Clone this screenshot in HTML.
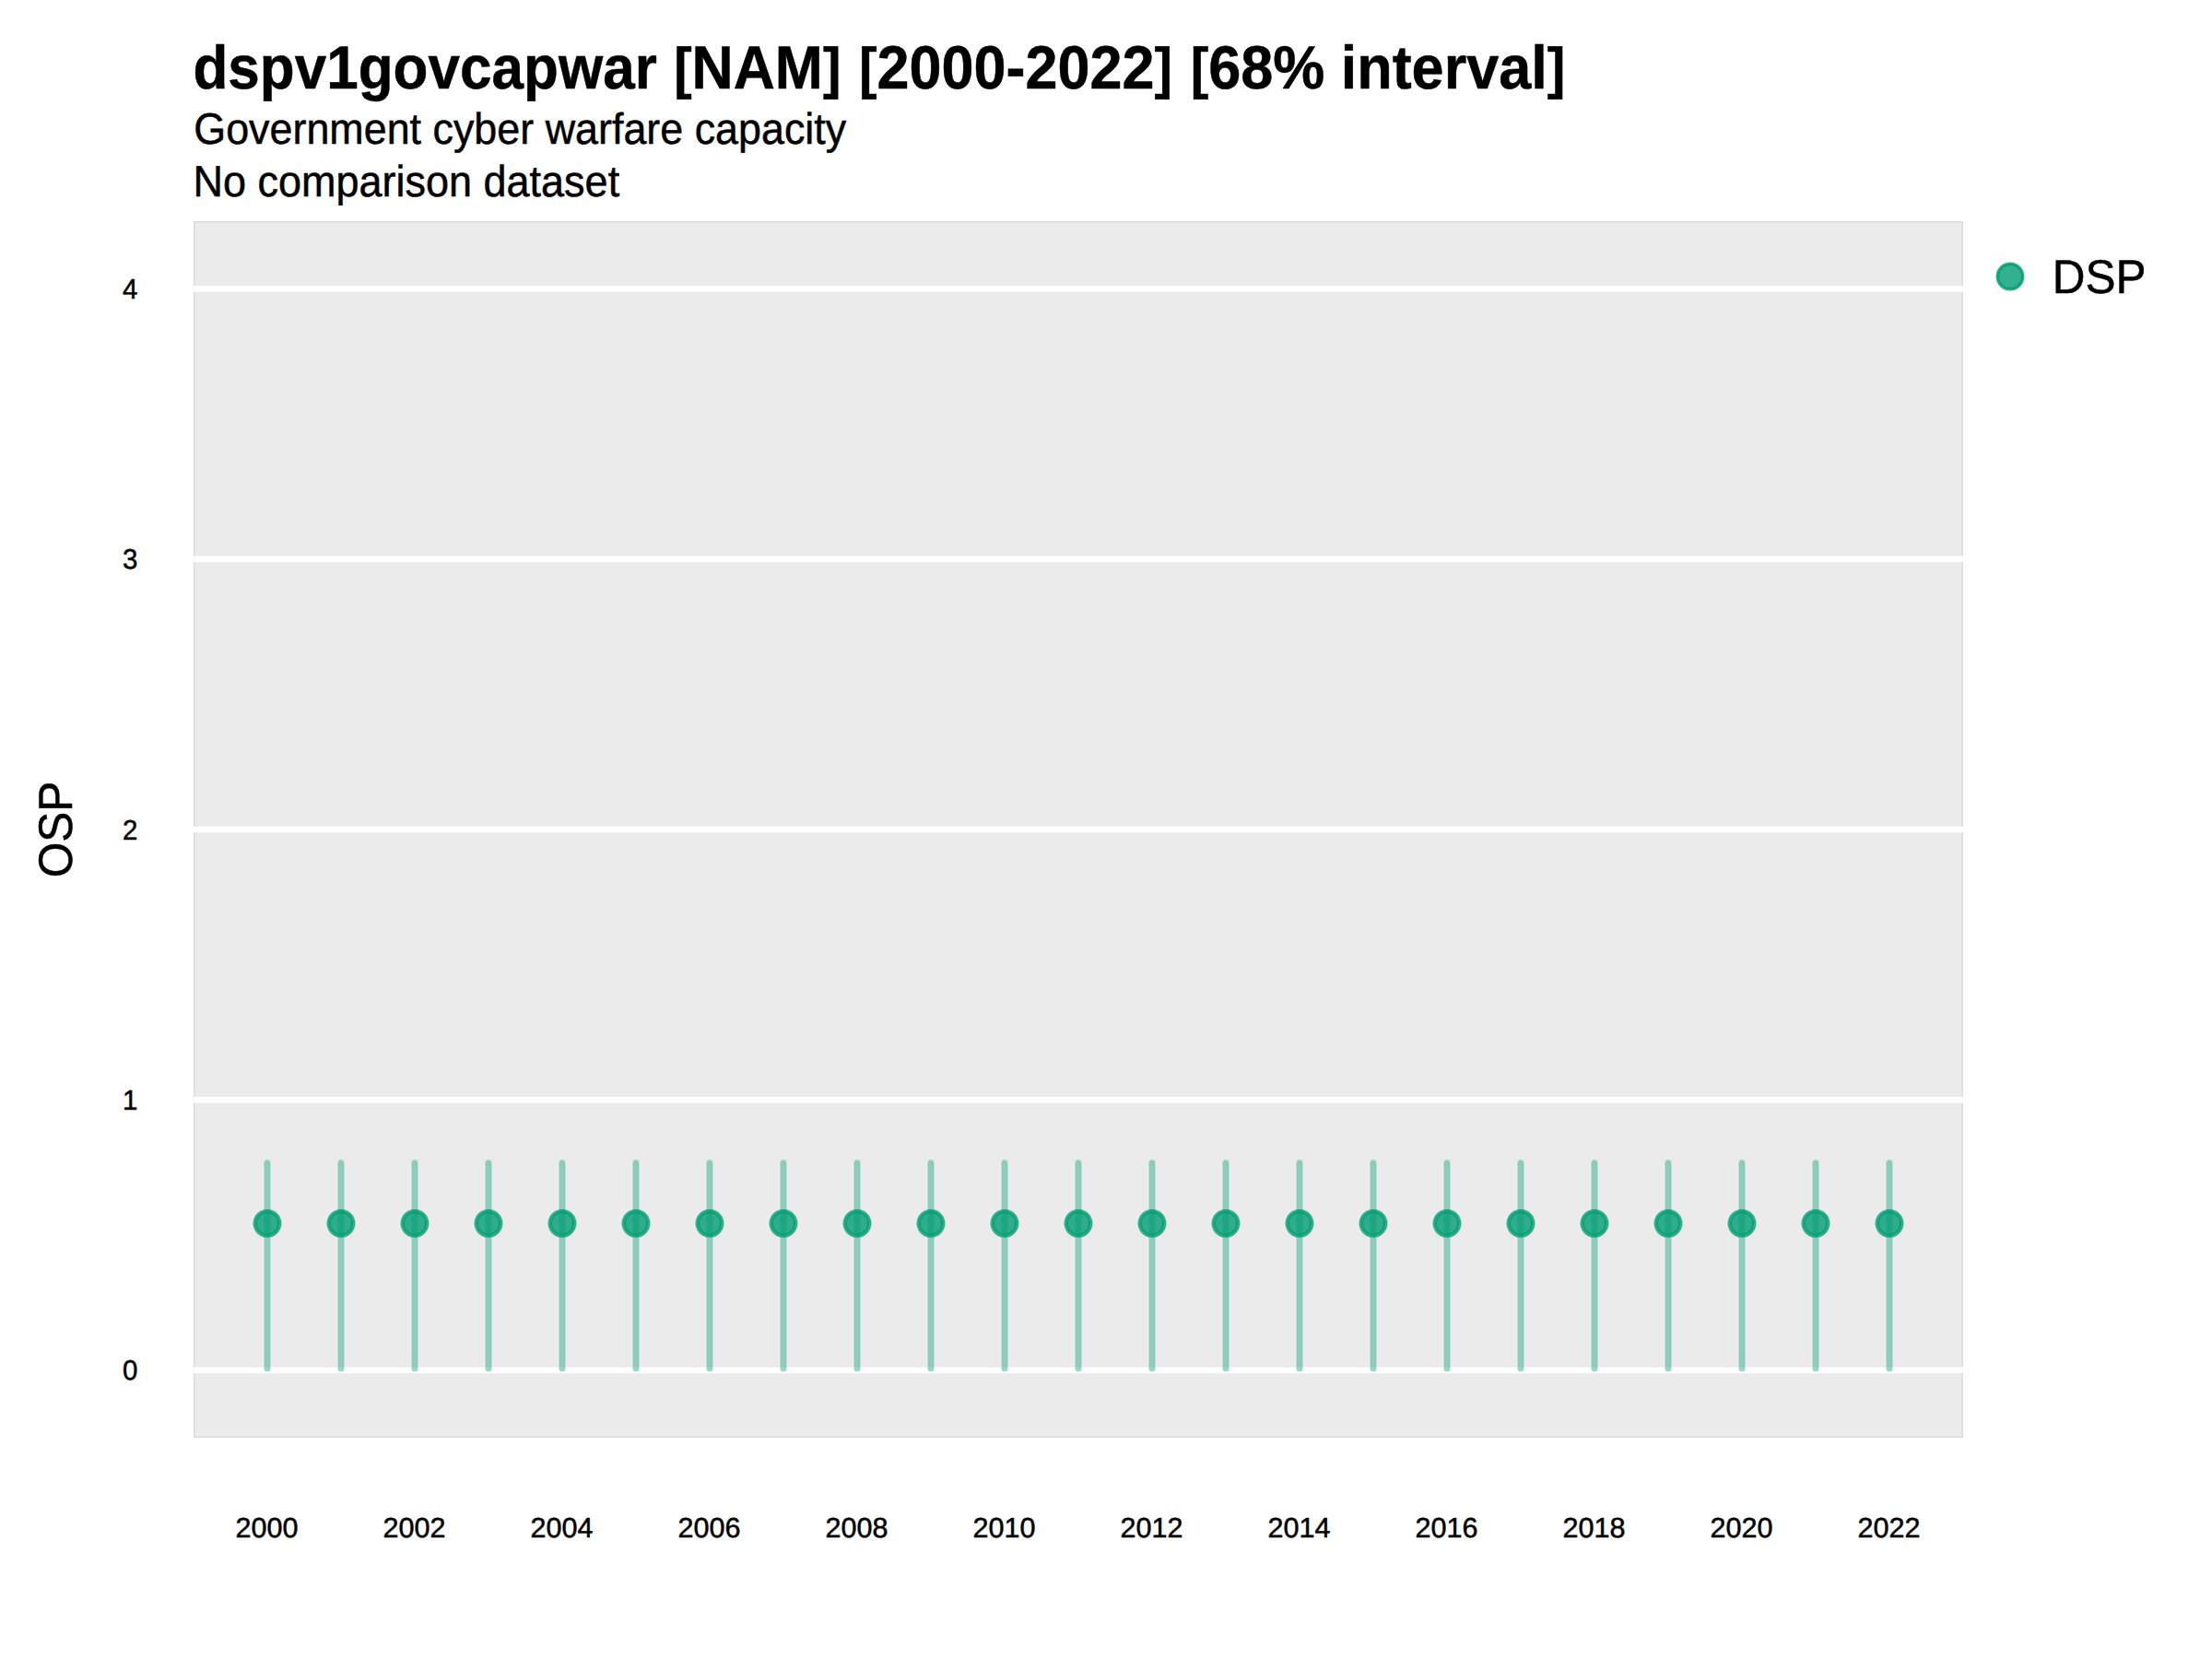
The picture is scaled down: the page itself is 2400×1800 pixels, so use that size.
<!DOCTYPE html>
<html lang="en"><head><meta charset="utf-8"><title>dspv1govcapwar [NAM] [2000-2022] [68% interval]</title>
<style>
html,body{margin:0;padding:0;background:#fff;}
body{width:2400px;height:1800px;overflow:hidden;}
svg{display:block;}
text{font-family:"Liberation Sans",sans-serif;fill:#000;text-rendering:geometricPrecision;stroke:#000;stroke-width:0.5px;}
.t{font-weight:bold;}
.m{text-anchor:middle;}
.e{text-anchor:end;}
</style></head><body>
<svg width="2400" height="1800" viewBox="0 0 2400 1800">
<rect width="2400" height="1800" fill="#ffffff"/>
<rect x="210" y="240" width="1920" height="1320" fill="#ebebeb"/>
<rect x="210.5" y="240.5" width="1919" height="1319" fill="none" stroke="#dcdcdc" stroke-width="1"/>
<rect x="211.5" y="241.5" width="1917" height="1317" fill="none" stroke="#e3e3e3" stroke-width="1"/>
<rect x="210" y="1483.47" width="1920" height="6.4" fill="#ffffff"/>
<rect x="210" y="1190.13" width="1920" height="6.4" fill="#ffffff"/>
<rect x="210" y="896.80" width="1920" height="6.4" fill="#ffffff"/>
<rect x="210" y="603.47" width="1920" height="6.4" fill="#ffffff"/>
<rect x="210" y="310.13" width="1920" height="6.4" fill="#ffffff"/>
<g stroke="#009E73" stroke-opacity="0.4" stroke-width="6.9" stroke-linecap="round">
<line x1="290" x2="290" y1="1261.9" y2="1484.9"/>
<line x1="370" x2="370" y1="1261.9" y2="1484.9"/>
<line x1="450" x2="450" y1="1261.9" y2="1484.9"/>
<line x1="530" x2="530" y1="1261.9" y2="1484.9"/>
<line x1="610" x2="610" y1="1261.9" y2="1484.9"/>
<line x1="690" x2="690" y1="1261.9" y2="1484.9"/>
<line x1="770" x2="770" y1="1261.9" y2="1484.9"/>
<line x1="850" x2="850" y1="1261.9" y2="1484.9"/>
<line x1="930" x2="930" y1="1261.9" y2="1484.9"/>
<line x1="1010" x2="1010" y1="1261.9" y2="1484.9"/>
<line x1="1090" x2="1090" y1="1261.9" y2="1484.9"/>
<line x1="1170" x2="1170" y1="1261.9" y2="1484.9"/>
<line x1="1250" x2="1250" y1="1261.9" y2="1484.9"/>
<line x1="1330" x2="1330" y1="1261.9" y2="1484.9"/>
<line x1="1410" x2="1410" y1="1261.9" y2="1484.9"/>
<line x1="1490" x2="1490" y1="1261.9" y2="1484.9"/>
<line x1="1570" x2="1570" y1="1261.9" y2="1484.9"/>
<line x1="1650" x2="1650" y1="1261.9" y2="1484.9"/>
<line x1="1730" x2="1730" y1="1261.9" y2="1484.9"/>
<line x1="1810" x2="1810" y1="1261.9" y2="1484.9"/>
<line x1="1890" x2="1890" y1="1261.9" y2="1484.9"/>
<line x1="1970" x2="1970" y1="1261.9" y2="1484.9"/>
<line x1="2050" x2="2050" y1="1261.9" y2="1484.9"/>
</g>
<g fill="#009E73" fill-opacity="0.8">
<circle cx="290" cy="1327.35" r="13"/>
<circle cx="370" cy="1327.35" r="13"/>
<circle cx="450" cy="1327.35" r="13"/>
<circle cx="530" cy="1327.35" r="13"/>
<circle cx="610" cy="1327.35" r="13"/>
<circle cx="690" cy="1327.35" r="13"/>
<circle cx="770" cy="1327.35" r="13"/>
<circle cx="850" cy="1327.35" r="13"/>
<circle cx="930" cy="1327.35" r="13"/>
<circle cx="1010" cy="1327.35" r="13"/>
<circle cx="1090" cy="1327.35" r="13"/>
<circle cx="1170" cy="1327.35" r="13"/>
<circle cx="1250" cy="1327.35" r="13"/>
<circle cx="1330" cy="1327.35" r="13"/>
<circle cx="1410" cy="1327.35" r="13"/>
<circle cx="1490" cy="1327.35" r="13"/>
<circle cx="1570" cy="1327.35" r="13"/>
<circle cx="1650" cy="1327.35" r="13"/>
<circle cx="1730" cy="1327.35" r="13"/>
<circle cx="1810" cy="1327.35" r="13"/>
<circle cx="1890" cy="1327.35" r="13"/>
<circle cx="1970" cy="1327.35" r="13"/>
<circle cx="2050" cy="1327.35" r="13"/>
<circle cx="2181" cy="300" r="14.1"/>
</g>
<g fill="none" stroke="#009E73" stroke-opacity="0.8" stroke-width="4.35">
<circle cx="290" cy="1327.35" r="13.275"/>
<circle cx="370" cy="1327.35" r="13.275"/>
<circle cx="450" cy="1327.35" r="13.275"/>
<circle cx="530" cy="1327.35" r="13.275"/>
<circle cx="610" cy="1327.35" r="13.275"/>
<circle cx="690" cy="1327.35" r="13.275"/>
<circle cx="770" cy="1327.35" r="13.275"/>
<circle cx="850" cy="1327.35" r="13.275"/>
<circle cx="930" cy="1327.35" r="13.275"/>
<circle cx="1010" cy="1327.35" r="13.275"/>
<circle cx="1090" cy="1327.35" r="13.275"/>
<circle cx="1170" cy="1327.35" r="13.275"/>
<circle cx="1250" cy="1327.35" r="13.275"/>
<circle cx="1330" cy="1327.35" r="13.275"/>
<circle cx="1410" cy="1327.35" r="13.275"/>
<circle cx="1490" cy="1327.35" r="13.275"/>
<circle cx="1570" cy="1327.35" r="13.275"/>
<circle cx="1650" cy="1327.35" r="13.275"/>
<circle cx="1730" cy="1327.35" r="13.275"/>
<circle cx="1810" cy="1327.35" r="13.275"/>
<circle cx="1890" cy="1327.35" r="13.275"/>
<circle cx="1970" cy="1327.35" r="13.275"/>
<circle cx="2050" cy="1327.35" r="13.275"/>
<circle cx="2181" cy="300" r="13.725" stroke-width="3.45"/>
</g>
<text class="t" font-size="66.3" y="96.00" xml:space="preserve"><tspan x="209.40" textLength="503.48" lengthAdjust="spacingAndGlyphs">dspv1govcapwar</tspan> <tspan x="731.17" textLength="181.20" lengthAdjust="spacingAndGlyphs"><tspan font-size="61.9" dy="-0.84">[</tspan><tspan dy="0.84">NAM</tspan><tspan font-size="61.9" dy="-0.84">]</tspan></tspan><tspan dy="0.84"> </tspan><tspan x="931.90" textLength="340.25" lengthAdjust="spacingAndGlyphs"><tspan font-size="61.9" dy="-0.84">[</tspan><tspan dy="0.84">2000-2022</tspan><tspan font-size="61.9" dy="-0.84">]</tspan></tspan><tspan dy="0.84"> </tspan><tspan x="1291.65" textLength="145.77" lengthAdjust="spacingAndGlyphs"><tspan font-size="61.9" dy="-0.84">[</tspan><tspan dy="0.84">68%</tspan></tspan> <tspan x="1454.65" textLength="243.70" lengthAdjust="spacingAndGlyphs">interval<tspan font-size="61.9" dy="-0.84">]</tspan></tspan></text>
<text font-size="47.5" transform="translate(210.28,155.90) scale(0.9442,1)">Government cyber warfare capacity</text>
<text font-size="47.5" transform="translate(209.38,213.30) scale(0.9474,1)">No comparison dataset</text>
<text class="e" font-size="30.4" transform="translate(149.50,1497.34) scale(0.9700,1)">0</text>
<text class="e" font-size="30.4" transform="translate(149.50,1204.00) scale(0.9700,1)">1</text>
<text class="e" font-size="30.4" transform="translate(149.50,910.67) scale(0.9700,1)">2</text>
<text class="e" font-size="30.4" transform="translate(149.50,617.34) scale(0.9700,1)">3</text>
<text class="e" font-size="30.4" transform="translate(149.50,324.00) scale(0.9700,1)">4</text>
<text class="m" font-size="30.4" transform="translate(289.60,1668.00) scale(1.0057,1)">2000</text>
<text class="m" font-size="30.4" transform="translate(449.60,1668.00) scale(1.0057,1)">2002</text>
<text class="m" font-size="30.4" transform="translate(609.60,1668.00) scale(1.0057,1)">2004</text>
<text class="m" font-size="30.4" transform="translate(769.60,1668.00) scale(1.0057,1)">2006</text>
<text class="m" font-size="30.4" transform="translate(929.60,1668.00) scale(1.0057,1)">2008</text>
<text class="m" font-size="30.4" transform="translate(1089.60,1668.00) scale(1.0057,1)">2010</text>
<text class="m" font-size="30.4" transform="translate(1249.60,1668.00) scale(1.0057,1)">2012</text>
<text class="m" font-size="30.4" transform="translate(1409.60,1668.00) scale(1.0057,1)">2014</text>
<text class="m" font-size="30.4" transform="translate(1569.60,1668.00) scale(1.0057,1)">2016</text>
<text class="m" font-size="30.4" transform="translate(1729.60,1668.00) scale(1.0057,1)">2018</text>
<text class="m" font-size="30.4" transform="translate(1889.60,1668.00) scale(1.0057,1)">2020</text>
<text class="m" font-size="30.4" transform="translate(2049.60,1668.00) scale(1.0057,1)">2022</text>
<text font-size="51.6" transform="translate(2226.78,317.75) scale(0.9578,1)">DSP</text>
<text class="m" font-size="51.6" transform="translate(77.90,900.00) rotate(-90) scale(0.9607,1)">OSP</text>
</svg>
</body></html>
